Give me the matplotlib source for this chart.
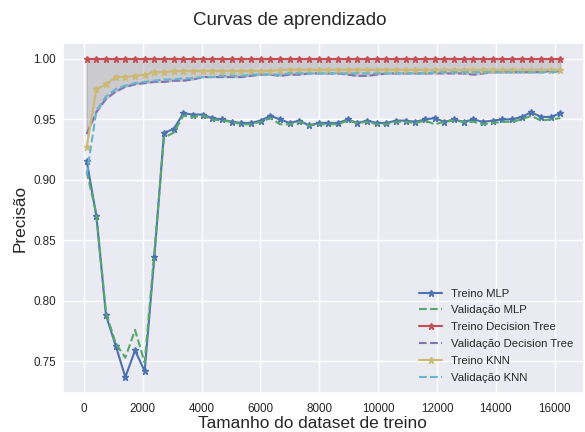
import numpy as np
import matplotlib
matplotlib.use("Agg")
import matplotlib.pyplot as plt
import seaborn as sns

sns.set_theme(style="darkgrid")
plt.rcParams['font.family'] = ['Liberation Sans', 'DejaVu Sans']

# Tamanhos do dataset de treino
train_sizes = [92, 421, 749, 1078, 1406, 1735, 2063, 2392, 2720, 3049,
               3378, 3706, 4035, 4363, 4692, 5020, 5349, 5677, 6006, 6334,
               6663, 6992, 7320, 7649, 7977, 8306, 8634, 8963, 9291, 9620,
               9949, 10277, 10606, 10934, 11263, 11591, 11920, 12248, 12577, 12905,
               13234, 13563, 13891, 14220, 14548, 14877, 15205, 15534, 15862, 16191]

mlp_train = [0.916, 0.870, 0.788, 0.763, 0.737, 0.759, 0.742, 0.836, 0.939, 0.942,
             0.955, 0.954, 0.954, 0.951, 0.950, 0.948, 0.947, 0.947, 0.949, 0.953,
             0.950, 0.947, 0.949, 0.945, 0.947, 0.947, 0.947, 0.950, 0.947, 0.949,
             0.947, 0.947, 0.949, 0.949, 0.948, 0.950, 0.951, 0.948, 0.950, 0.948,
             0.950, 0.948, 0.949, 0.950, 0.950, 0.952, 0.956, 0.952, 0.952, 0.955]
mlp_val = [0.907, 0.872, 0.790, 0.765, 0.753, 0.776, 0.749, 0.840, 0.935, 0.939,
           0.953, 0.952, 0.953, 0.950, 0.949, 0.948, 0.946, 0.946, 0.948, 0.951,
           0.946, 0.946, 0.948, 0.945, 0.946, 0.946, 0.946, 0.949, 0.947, 0.948,
           0.946, 0.946, 0.948, 0.948, 0.947, 0.949, 0.946, 0.948, 0.949, 0.948,
           0.948, 0.946, 0.947, 0.948, 0.948, 0.950, 0.953, 0.949, 0.950, 0.951]

dt_train = [1.0] * 50
dt_val = [0.938, 0.956, 0.967, 0.973, 0.977, 0.979, 0.980, 0.981, 0.981, 0.982,
          0.982, 0.983, 0.985, 0.985, 0.985, 0.985, 0.985, 0.986, 0.987, 0.987,
          0.986, 0.987, 0.987, 0.988, 0.988, 0.988, 0.988, 0.987, 0.986, 0.986,
          0.987, 0.988, 0.988, 0.988, 0.988, 0.988, 0.988, 0.988, 0.988, 0.988,
          0.987, 0.988, 0.989, 0.989, 0.989, 0.989, 0.989, 0.989, 0.990, 0.990]

knn_train = [0.927, 0.975, 0.979, 0.985, 0.985, 0.986, 0.987, 0.989, 0.989, 0.990,
             0.990, 0.990, 0.990, 0.990, 0.990, 0.990, 0.990, 0.990, 0.990, 0.990,
             0.991, 0.991, 0.991, 0.991, 0.991, 0.991, 0.991, 0.991, 0.991, 0.991,
             0.991, 0.991, 0.991, 0.991, 0.991, 0.991, 0.991, 0.991, 0.991, 0.991,
             0.991, 0.991, 0.991, 0.991, 0.991, 0.991, 0.991, 0.991, 0.991, 0.991]
knn_val = [0.904, 0.957, 0.969, 0.975, 0.978, 0.980, 0.981, 0.982, 0.983, 0.983,
           0.984, 0.984, 0.985, 0.985, 0.986, 0.986, 0.986, 0.987, 0.987, 0.987,
           0.987, 0.988, 0.988, 0.988, 0.988, 0.988, 0.988, 0.988, 0.988, 0.988,
           0.988, 0.988, 0.988, 0.988, 0.988, 0.988, 0.989, 0.989, 0.989, 0.989,
           0.989, 0.989, 0.989, 0.989, 0.989, 0.989, 0.989, 0.989, 0.989, 0.989]

fig = plt.figure(figsize=(5.85, 4.32), dpi=100)
ax = fig.add_axes([63 / 585, 39 / 432, 521 / 585, 350 / 432])

# area entre treino e validacao da arvore de decisao
ax.fill_between(train_sizes, dt_train, dt_val, color='gray', alpha=0.3)

ax.plot(train_sizes, mlp_train, 'b*-', lw=1.5, ms=5, label='Treino MLP')
ax.plot(train_sizes, mlp_val, 'g--', lw=1.5, label='Validação MLP')
ax.plot(train_sizes, dt_train, 'r*-', lw=1.5, ms=5, label='Treino Decision Tree')
ax.plot(train_sizes, dt_val, 'm--', lw=1.5, label='Validação Decision Tree')
ax.plot(train_sizes, knn_train, 'y*-', lw=1.5, ms=5, label='Treino KNN')
ax.plot(train_sizes, knn_val, 'c--', lw=1.5, label='Validação KNN')

ax.tick_params(axis='y', labelsize=8.4, length=0, pad=5)
ax.tick_params(axis='x', labelsize=8.4, length=0, pad=7)
ax.set_xlabel('Tamanho do dataset de treino', fontsize=12.4, labelpad=1, x=0.478)
ax.set_ylabel('Precisão', fontsize=12.4, labelpad=4)
ax.legend(loc='lower right', fontsize=8.2, frameon=False, labelspacing=0.6)
fig.suptitle('Curvas de aprendizado', x=290 / 585, y=0.972, fontsize=13.5)

fig.savefig('out.png', dpi=100)
